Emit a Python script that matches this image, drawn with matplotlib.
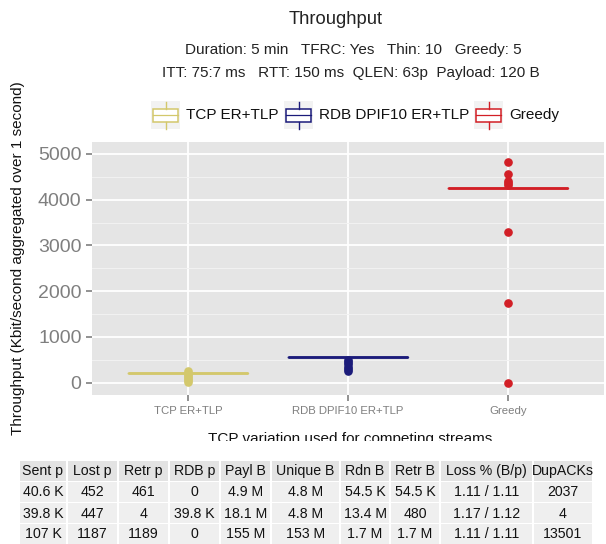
import matplotlib
matplotlib.use("Agg")
import matplotlib.pyplot as plt
from matplotlib.patches import Rectangle
from matplotlib.lines import Line2D

plt.rcParams['font.family'] = ['Liberation Sans', 'DejaVu Sans']

# ---- data ----
categories = ["TCP ER+TLP", "RDB DPIF10 ER+TLP", "Greedy"]
colors = ["#d3c86c", "#1b1b7a", "#d21f26"]
medians = [205, 555, 4250]
q1 = [205, 555, 4250]
q3 = [205, 555, 4250]
whis_lo = [205, 555, 4250]
whis_hi = [205, 555, 4250]
outliers = [
    [250, 200, 150, 100, 50, 10],
    [500, 450, 400, 350, 300, 250],
    [4820, 4560, 4400, 4360, 4330, 3300, 1740, 0],
]
yticks = [0, 1000, 2000, 3000, 4000, 5000]

title = "Throughput"
subtitle1 = "Duration: 5 min   TFRC: Yes   Thin: 10   Greedy: 5"
subtitle2 = "ITT: 75:7 ms   RTT: 150 ms  QLEN: 63p  Payload: 120 B"
xlabel = "TCP variation used for competing streams"
ylabel = "Throughput (Kbit/second aggregated over 1 second)"

table_header = ["Sent p", "Lost p", "Retr p", "RDB p", "Payl B", "Unique B",
                "Rdn B", "Retr B", "Loss % (B/p)", "DupACKs"]
table_rows = [
    ["40.6 K", "452", "461", "0", "4.9 M", "4.8 M", "54.5 K", "54.5 K", "1.11 / 1.11", "2037"],
    ["39.8 K", "447", "4", "39.8 K", "18.1 M", "4.8 M", "13.4 M", "480", "1.17 / 1.12", "4"],
    ["107 K", "1187", "1189", "0", "155 M", "153 M", "1.7 M", "1.7 M", "1.11 / 1.11", "13501"],
]

W, H = 606, 544
fig = plt.figure(figsize=(W / 100, H / 100), dpi=100)
fig.patch.set_facecolor("white")

def fx(px):
    return px / W

def fy(py):
    return 1 - py / H

# ---- main panel ----
L, R, T, B = 92, 604, 142, 395
ax = fig.add_axes([fx(L), fy(B), fx(R - L), (B - T) / H])
ax.set_facecolor("#e5e5e5")
for s in ax.spines.values():
    s.set_visible(False)
ax.set_xlim(0.4, 3.6)
ax.set_ylim(-270, 5262)
ax.set_yticks(yticks)
ax.set_yticks([500, 1500, 2500, 3500, 4500], minor=True)
ax.grid(which="major", color="white", lw=1.3)
ax.grid(which="minor", axis="y", color="#f2f2f2", lw=0.7)
ax.set_axisbelow(True)
ax.tick_params(axis="y", which="major", labelsize=14, colors="#7f7f7f",
               length=4, width=1.2, pad=3.5)
ax.tick_params(axis="x", which="major", labelsize=8.2, colors="#7f7f7f",
               length=4, width=1.2, pad=4)
ax.tick_params(which="minor", length=0)

for i in range(3):
    c = colors[i]
    st = dict(med=medians[i], q1=q1[i], q3=q3[i], whislo=whis_lo[i],
              whishi=whis_hi[i], fliers=outliers[i], label=categories[i])
    ax.bxp([st], positions=[i + 1], widths=0.75, showcaps=False,
           boxprops=dict(color=c, lw=1.0),
           medianprops=dict(color=c, lw=2.0),
           whiskerprops=dict(color=c, lw=1.0),
           flierprops=dict(marker="o", markerfacecolor=c, markeredgecolor=c,
                           markersize=5.2, linestyle="none"))
ax.set_xticks([1, 2, 3])
ax.set_xticklabels(categories)

# ---- titles and labels ----
fig.text(fx(336), fy(20), title, ha="center", va="center", fontsize=13.2, color="#222222")
fig.text(fx(353), fy(50), subtitle1, ha="center", va="center", fontsize=11, color="#222222")
fig.text(fx(351), fy(73), subtitle2, ha="center", va="center", fontsize=11, color="#222222")
fig.text(fx(18), fy(258), ylabel, ha="center", va="center", rotation=90,
         fontsize=11, color="#111111")

# ---- overlay axes (x label, legend + table) ----
lax = fig.add_axes([0, 0, 1, 1], facecolor="none")
lax.set_zorder(5)
lax.set_xlim(0, W)
lax.set_ylim(H, 0)
lax.axis("off")

lax.text(350, 443, xlabel, ha="center", va="baseline", fontsize=11,
         color="#111111", zorder=0.5)
# white area of the table that hides the lower part of the x label
lax.add_patch(Rectangle((0, 441), W, H - 441, facecolor="white", edgecolor="none", zorder=1))

key_x = [151, 284, 474]
text_x = [186, 319, 509]
ky0, ky1 = 101, 129
for i in range(3):
    x0 = key_x[i]
    c = colors[i]
    lax.add_patch(Rectangle((x0, ky0), 29, ky1 - ky0, facecolor="#f2f2f2", edgecolor="none", zorder=2))
    lax.add_patch(Rectangle((x0 + 2, 108.5), 25, 13, facecolor="white", edgecolor=c, lw=1.1, zorder=3))
    lax.add_line(Line2D([x0 + 2, x0 + 27], [115, 115], color=c, lw=0.9, zorder=4))
    lax.add_line(Line2D([x0 + 14.5, x0 + 14.5], [101.5, 108.5], color=c, lw=1.0, zorder=4))
    lax.add_line(Line2D([x0 + 14.5, x0 + 14.5], [121.5, 128.5], color=c, lw=1.0, zorder=4))
    lax.text(text_x[i], 115, categories[i], ha="left", va="center", fontsize=11,
             color="#111111", zorder=4)

# ---- table ----
col_edges = [19, 67, 118, 169, 220, 271, 340, 390, 440, 533, 593]
row_edges = [460, 481.5, 502.5, 523.5, 544.5]
for r in range(4):
    y0, y1 = row_edges[r], row_edges[r + 1]
    vals = table_header if r == 0 else table_rows[r - 1]
    bg = "#e3e3e3" if r == 0 else "#efefef"
    for cidx in range(len(col_edges) - 1):
        x0, x1 = col_edges[cidx], col_edges[cidx + 1]
        lax.add_patch(Rectangle((x0 + 0.8, y0 + 0.8), x1 - x0 - 1.6, y1 - y0 - 1.6,
                                facecolor=bg, edgecolor="none", zorder=2))
        lax.text((x0 + x1) / 2, (y0 + y1) / 2 + 0.5, vals[cidx], ha="center", va="center",
                 fontsize=10.2, color="#111111", zorder=3)

fig.savefig("out.png", dpi=100, facecolor="white")
